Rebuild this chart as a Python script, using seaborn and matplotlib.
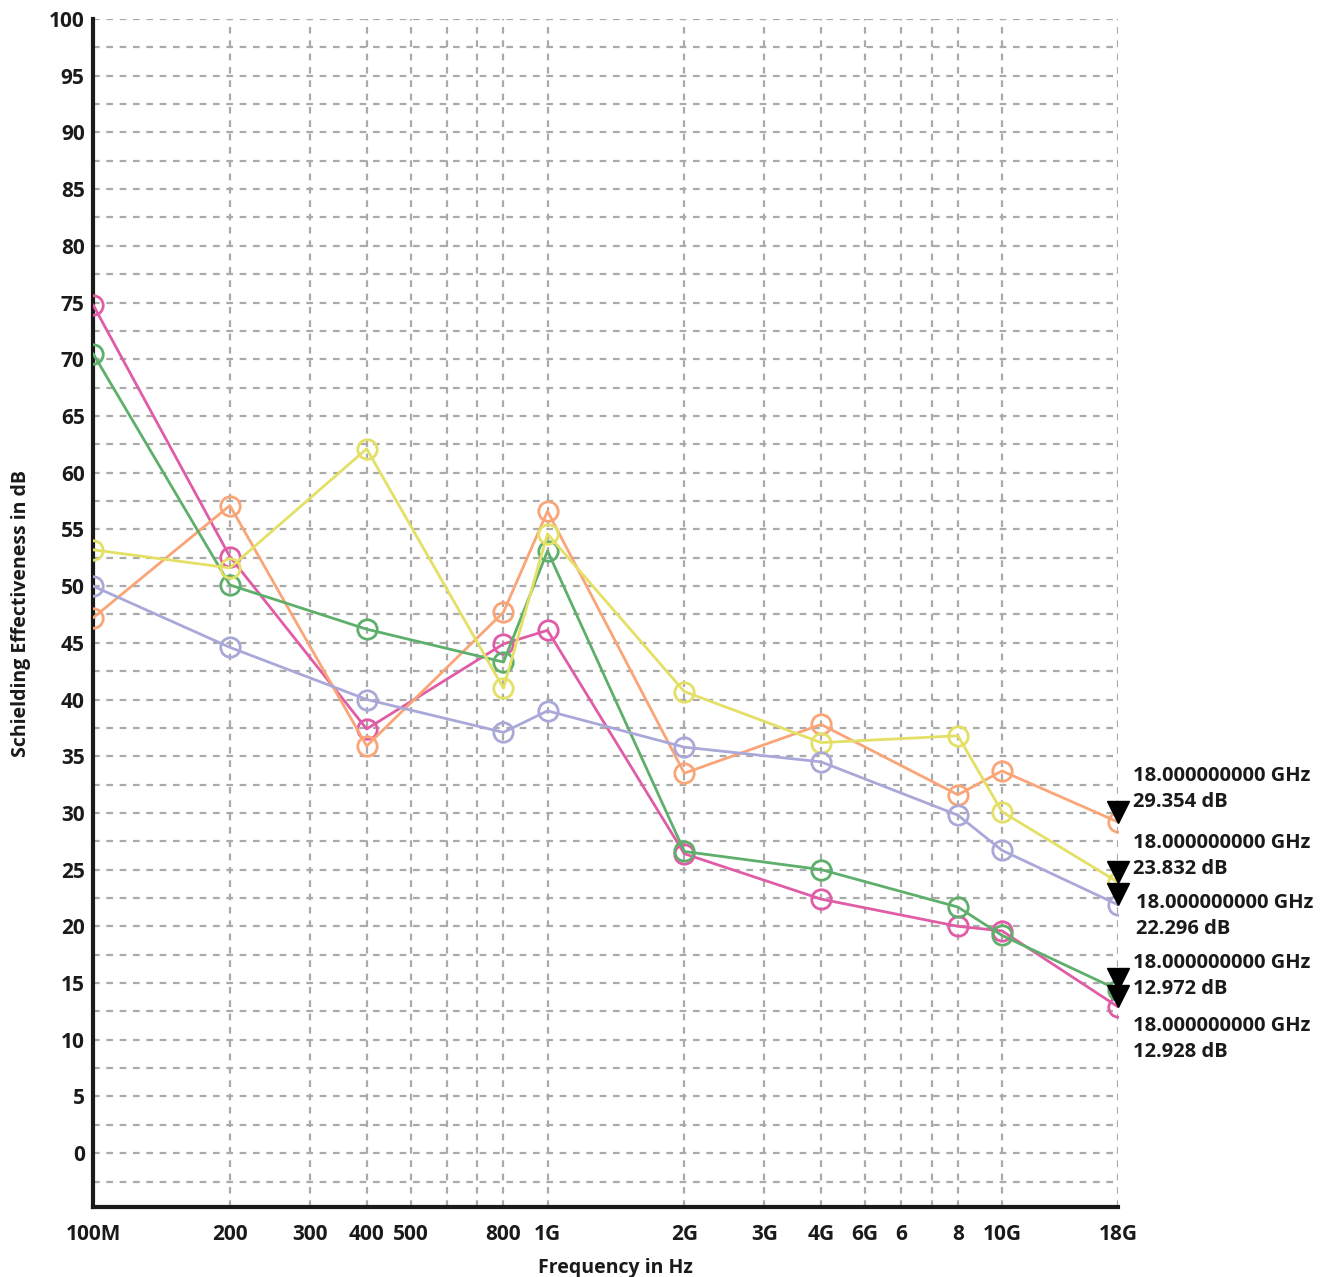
import matplotlib
matplotlib.use("Agg")
import matplotlib.pyplot as plt
import matplotlib.transforms as mtransforms
import numpy as np
import pandas as pd
import seaborn as sns

# measured frequencies (Hz)
freq_hz = [1e8, 2e8, 4e8, 8e8, 1e9, 2e9, 4e9, 8e9, 1e10, 1.8e10]

# shielding effectiveness per sample (dB)
pink = [74.8, 52.6, 37.4, 44.9, 46.1, 26.4, 22.4, 20.0, 19.6, 12.9]
orange = [47.2, 57.1, 35.9, 47.7, 56.6, 33.5, 37.8, 31.6, 33.7, 29.2]
green = [70.5, 50.1, 46.2, 43.3, 53.1, 26.6, 25.0, 21.7, 19.2, 14.4]
yellow = [53.2, 51.6, 62.1, 41.0, 54.6, 40.7, 36.2, 36.8, 30.1, 23.9]
lavender = [50.0, 44.6, 40.0, 37.1, 39.0, 35.8, 34.5, 29.8, 26.7, 21.9]

# marker readouts at 18 GHz
marker_freq = "18.000000000 GHz"
marker_db = {"orange": "29.354", "yellow": "23.832", "lavender": "22.296",
             "green": "12.972", "pink": "12.928"}

x_ticks = [1e8, 2e8, 3e8, 4e8, 5e8, 6e8, 7e8, 8e8, 1e9, 2e9, 3e9, 4e9,
           5e9, 6e9, 7e9, 8e9, 1e10, 1.8e10]
x_labels = ["100M", "200", "300", "400", "500", "", "", "800", "1G", "2G",
            "3G", "4G", "6G", "6", "", "8", "10G", "18G"]

series = {"pink": pink, "orange": orange, "green": green,
          "yellow": yellow, "lavender": lavender}
colors = {"pink": "#e05ca6", "orange": "#f9a577", "green": "#5daf6b",
          "yellow": "#e3e065", "lavender": "#a9a8d8"}
# label offsets (points) from the last point
label_offset = {"orange": (11, 24), "yellow": (11, 19), "lavender": (13, -8),
                "green": (11, 10), "pink": (11, -23)}

sns.set_style("white")
plt.rcParams["font.family"] = ["Open Sans", "DejaVu Sans"]
plt.rcParams["font.weight"] = "bold"

fig = plt.figure(figsize=(13.37, 12.77), dpi=100)
ax = fig.add_axes([0.0696, 0.0548, 0.8362 - 0.0696, 0.9851 - 0.0548])

for name, vals in series.items():
    df = pd.DataFrame({"freq": freq_hz, "se": vals})
    sns.lineplot(data=df, x="freq", y="se", ax=ax, color=colors[name],
                 linewidth=2, marker="o", markersize=14,
                 markerfacecolor="none", markeredgecolor=colors[name],
                 markeredgewidth=2, zorder=3)

ax.set_xscale("log")
ax.set_xlim(1e8, 1.8e10)
ax.set_ylim(-4.75, 100)

# black triangle markers and readouts at 18 GHz
tri_trans = mtransforms.offset_copy(ax.transData, fig=fig, x=0, y=7.5, units="points")
for name in ["orange", "yellow", "lavender", "green", "pink"]:
    yv = series[name][-1]
    ax.plot([freq_hz[-1]], [yv], marker="v", color="black", markersize=16,
            transform=tri_trans, zorder=5, clip_on=False)
    ax.annotate(f"{marker_freq}\n{marker_db[name]} dB", xy=(freq_hz[-1], yv),
                xytext=label_offset[name], textcoords="offset points",
                ha="left", va="center", fontsize=14.5, fontweight="bold",
                linespacing=1.4, annotation_clip=False, color="#1a1a1a")

ax.xaxis.set_major_locator(matplotlib.ticker.FixedLocator(x_ticks))
ax.xaxis.set_major_formatter(matplotlib.ticker.FixedFormatter(x_labels))
ax.xaxis.set_minor_locator(matplotlib.ticker.NullLocator())
ax.set_yticks(np.arange(0, 101, 5))
ax.set_yticks(np.arange(-2.5, 100, 5), minor=True)

for s in ["top", "right"]:
    ax.spines[s].set_visible(False)
for s in ["left", "bottom"]:
    ax.spines[s].set_linewidth(3)
    ax.spines[s].set_color("#1a1a1a")

ax.tick_params(axis="y", which="both", direction="in", length=16, width=3.5,
               color="#1a1a1a", pad=6, labelsize=15)
ax.tick_params(axis="x", which="both", direction="inout", length=16, width=2.8,
               color="#1a1a1a", pad=4, labelsize=15)
for lab in ax.get_xticklabels() + ax.get_yticklabels():
    lab.set_fontweight("bold")
    lab.set_color("#1a1a1a")

ax.grid(which="both", axis="both", color="#aaaaaa", linestyle=(0, (3, 3)),
        linewidth=1.6)
ax.set_axisbelow(True)

ax.set_xlabel("Frequency in Hz", fontsize=14, fontweight="bold", color="#1a1a1a")
ax.xaxis.set_label_coords(0.51, -0.043)
ax.set_ylabel("Schielding Effectiveness in dB", fontsize=14, fontweight="bold",
              labelpad=13, color="#1a1a1a")

fig.savefig("out.png", dpi=100, facecolor="white")
